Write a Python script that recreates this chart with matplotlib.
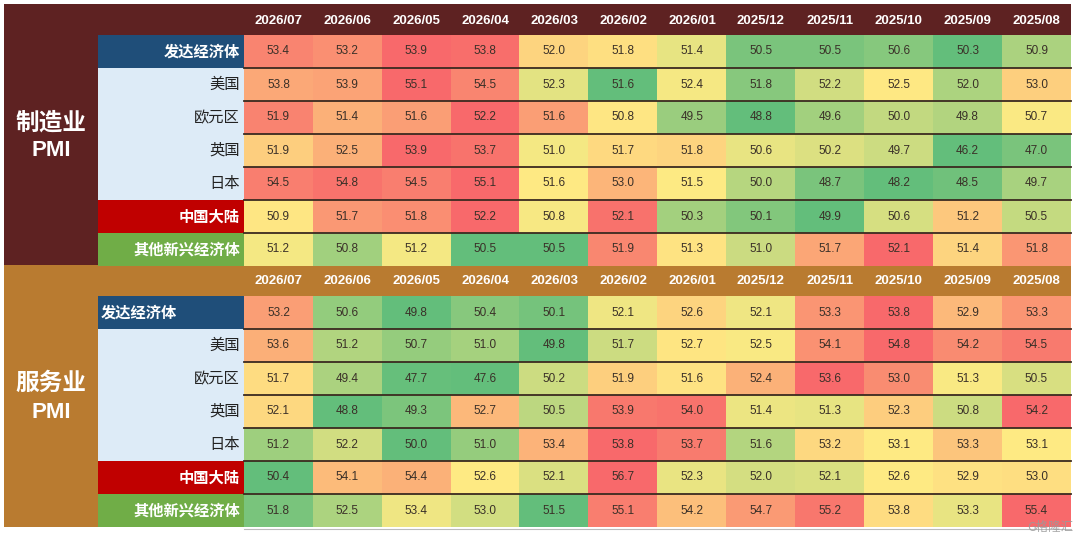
import numpy as np
import matplotlib
matplotlib.use("Agg")
import matplotlib.pyplot as plt
from matplotlib.patches import Rectangle
from matplotlib.colors import LinearSegmentedColormap, TwoSlopeNorm

# ── data ──────────────────────────────────────
months = ["2026/07", "2026/06", "2026/05", "2026/04", "2026/03", "2026/02",
          "2026/01", "2025/12", "2025/11", "2025/10", "2025/09", "2025/08"]
regions = ["发达经济体", "美国", "欧元区", "英国", "日本", "中国大陆", "其他新兴经济体"]

mfg_dev = [53.4, 53.2, 53.9, 53.8, 52.0, 51.8, 51.4, 50.5, 50.5, 50.6, 50.3, 50.9]
mfg_us = [53.8, 53.9, 55.1, 54.5, 52.3, 51.6, 52.4, 51.8, 52.2, 52.5, 52.0, 53.0]
mfg_ez = [51.9, 51.4, 51.6, 52.2, 51.6, 50.8, 49.5, 48.8, 49.6, 50.0, 49.8, 50.7]
mfg_uk = [51.9, 52.5, 53.9, 53.7, 51.0, 51.7, 51.8, 50.6, 50.2, 49.7, 46.2, 47.0]
mfg_jp = [54.5, 54.8, 54.5, 55.1, 51.6, 53.0, 51.5, 50.0, 48.7, 48.2, 48.5, 49.7]
mfg_cn = [50.9, 51.7, 51.8, 52.2, 50.8, 52.1, 50.3, 50.1, 49.9, 50.6, 51.2, 50.5]
mfg_em = [51.2, 50.8, 51.2, 50.5, 50.5, 51.9, 51.3, 51.0, 51.7, 52.1, 51.4, 51.8]

svc_dev = [53.2, 50.6, 49.8, 50.4, 50.1, 52.1, 52.6, 52.1, 53.3, 53.8, 52.9, 53.3]
svc_us = [53.6, 51.2, 50.7, 51.0, 49.8, 51.7, 52.7, 52.5, 54.1, 54.8, 54.2, 54.5]
svc_ez = [51.7, 49.4, 47.7, 47.6, 50.2, 51.9, 51.6, 52.4, 53.6, 53.0, 51.3, 50.5]
svc_uk = [52.1, 48.8, 49.3, 52.7, 50.5, 53.9, 54.0, 51.4, 51.3, 52.3, 50.8, 54.2]
svc_jp = [51.2, 52.2, 50.0, 51.0, 53.4, 53.8, 53.7, 51.6, 53.2, 53.1, 53.3, 53.1]
svc_cn = [50.4, 54.1, 54.4, 52.6, 52.1, 56.7, 52.3, 52.0, 52.1, 52.6, 52.9, 53.0]
svc_em = [51.8, 52.5, 53.4, 53.0, 51.5, 55.1, 54.2, 54.7, 55.2, 53.8, 53.3, 55.4]

mfg = np.array([mfg_dev, mfg_us, mfg_ez, mfg_uk, mfg_jp, mfg_cn, mfg_em])
svc = np.array([svc_dev, svc_us, svc_ez, svc_uk, svc_jp, svc_cn, svc_em])

# ── style ─────────────────────────────────────
CJK = ["Noto Sans CJK SC", "DejaVu Sans"]
NUM = ["Liberation Sans", "DejaVu Sans"]
cmap = LinearSegmentedColormap.from_list("excel3", ["#63BE7B", "#FFEB84", "#F8696B"])

X0, X_LAB, X_DATA, X1 = 4, 98, 244, 1071
HEAD_H, ROW_H = 31, 33

sections = [
    dict(title="制造业", vals=mfg, top=4, bg="#5E2222", dev_align="right"),
    dict(title="服务业", vals=svc, top=265, bg="#B97B30", dev_align="left"),
]
label_bg = ["#1F4E79", "#DDEBF7", "#DDEBF7", "#DDEBF7", "#DDEBF7", "#C00000", "#70AD47"]
label_fg = ["white", "#222222", "#222222", "#222222", "#222222", "white", "white"]
label_bold = [True, False, False, False, False, True, True]


def row_colors(v):
    """Excel風 3色スケール（行ごと: 最小=緑, 中央値=黄, 最大=赤）"""
    out = np.zeros((v.shape[0], v.shape[1], 4))
    for i, r in enumerate(v):
        mid = np.percentile(r, 50)
        lo, hi = r.min(), r.max()
        if not lo < mid < hi:
            mid = (lo + hi) / 2
        norm = TwoSlopeNorm(vcenter=mid, vmin=lo, vmax=hi)
        out[i] = cmap(norm(r))
    return out


fig = plt.figure(figsize=(10.8, 5.36), dpi=100)
ax = fig.add_axes([0, 0, 1, 1])
ax.set_xlim(0, 1080)
ax.set_ylim(536, 0)
ax.set_axis_off()

col_w = (X1 - X_DATA) / len(months)
n_rows = len(regions)

for sec in sections:
    top = sec["top"]
    body_top = top + HEAD_H
    bottom = body_top + ROW_H * n_rows

    # 外枠背景
    ax.add_patch(Rectangle((X0, top), X1 - X0, bottom - top,
                           facecolor=sec["bg"], edgecolor="none", zorder=0))

    # セクション名（セクション全体の中央）
    cy = (top + bottom) / 2 + 2
    ax.text((X0 + X_LAB) / 2, cy - 15, sec["title"], family=CJK, fontsize=17,
            fontweight="bold", color="white", ha="center", va="center")
    ax.text((X0 + X_LAB) / 2, cy + 14, "PMI", family=NUM, fontsize=16,
            fontweight="bold", color="white", ha="center", va="center")

    # 月ヘッダ
    for j, m in enumerate(months):
        ax.text(X_DATA + col_w * (j + 0.5), top + HEAD_H / 2 + 1, m, family=NUM,
                fontsize=9.5, fontweight="bold", color="white",
                ha="center", va="center")

    # 地域ラベル
    for i, name in enumerate(regions):
        y = body_top + ROW_H * i
        ax.add_patch(Rectangle((X_LAB, y), X_DATA - X_LAB, ROW_H,
                               facecolor=label_bg[i], edgecolor="none", zorder=1))
        if i == 0 and sec["dev_align"] == "left":
            tx, ha = X_LAB + 3, "left"
        else:
            tx, ha = X_DATA - 4, "right"
        ax.text(tx, y + ROW_H / 2, name, family=CJK, fontsize=11,
                fontweight="bold" if label_bold[i] else "normal",
                color=label_fg[i], ha=ha, va="center", zorder=3)

    # データセル
    vals = sec["vals"]
    ax.imshow(row_colors(vals), extent=[X_DATA, X1, bottom, body_top],
              aspect="auto", interpolation="nearest", zorder=1)
    for i in range(n_rows):
        for j in range(len(months)):
            ax.text(X_DATA + col_w * (j + 0.5), body_top + ROW_H * (i + 0.5),
                    f"{vals[i, j]:.1f}", family=NUM, fontsize=8.5,
                    color="#3a3028", ha="center", va="center", zorder=3)
    for i in range(1, n_rows):
        y = body_top + ROW_H * i
        ax.plot([X_DATA, X1], [y, y], color="#3b2a20", lw=1.3, zorder=2)

# 下端の薄い線
ax.plot([X_DATA, X1], [529, 529], color="#bbbbbb", lw=0.8, zorder=2)

# ウォーターマーク
ax.text(1050, 527, "G格隆汇", family=CJK, fontsize=9, color="#9a9a9a",
        alpha=0.85, ha="center", va="center", zorder=4)

fig.savefig("out.png", dpi=100, facecolor="white")
